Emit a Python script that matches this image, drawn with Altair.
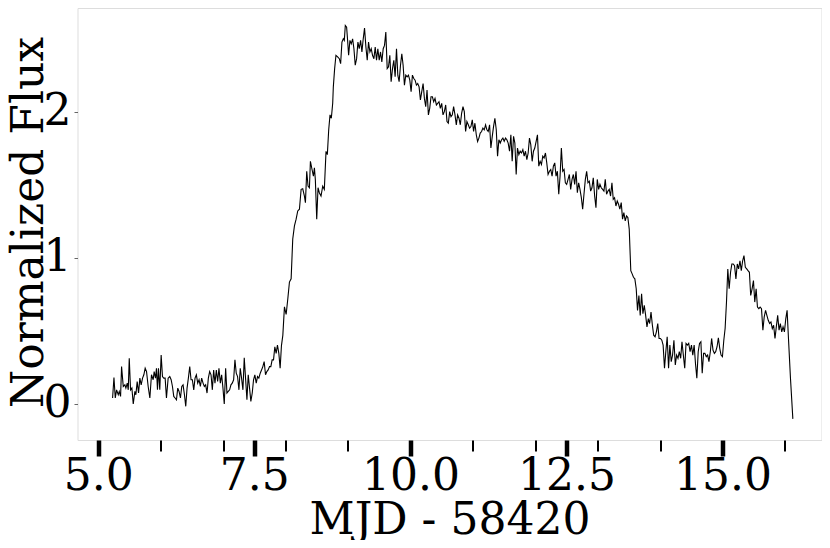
import altair as alt
import pandas as pd

# --- light curve, in five pieces (MJD - 58420, normalized flux) ---
mjd_quiescent = [5.229,5.251,5.272,5.293,5.320,5.336,5.357,5.373,5.400,5.426,5.442,5.464,5.480,5.496,5.517,5.538,5.560,5.586,5.602,5.623,5.645,5.666,5.687,5.709,5.730,5.751,5.773,5.799,5.826,5.852,5.879,5.895,5.916,5.932,5.948,5.964,5.985,6.007,6.028,6.049,6.071,6.092,6.119,6.145,6.167,6.188,6.209,6.230,6.252,6.273,6.294,6.316,6.337,6.358,6.380,6.401,6.422,6.443,6.465,6.486,6.507,6.529,6.550,6.571,6.593,6.614,6.635,6.656,6.678,6.699,6.720,6.742,6.763,6.784,6.806,6.827,6.848,6.869,6.891,6.912,6.933,6.955,6.976,6.997,7.018,7.040,7.061,7.082,7.104,7.125,7.146,7.168,7.189,7.210,7.231,7.253,7.274,7.295,7.317,7.338,7.359,7.381,7.402,7.423,7.444,7.466,7.487,7.508,7.530,7.551,7.572,7.594,7.615,7.636,7.657,7.679,7.700,7.721,7.743,7.764,7.785,7.807,7.828,7.849,7.870,7.892,7.913]
flux_quiescent = [0.041,0.181,0.041,0.097,0.063,0.086,0.052,0.256,0.120,0.131,0.109,0.143,0.097,0.313,0.097,0.109,0.000,0.086,0.063,0.154,0.075,0.177,0.131,0.177,0.200,0.245,0.222,0.120,0.041,0.200,0.166,0.222,0.177,0.245,0.097,0.245,0.097,0.336,0.188,0.177,0.177,0.041,0.177,0.188,0.166,0.120,0.052,0.041,0.029,0.109,0.086,0.041,0.120,0.131,0.063,-0.016,0.109,0.177,0.256,0.166,0.166,0.097,0.177,0.200,0.143,0.166,0.120,0.177,0.143,0.120,0.131,0.075,0.177,0.222,0.200,0.097,0.233,0.143,0.233,0.154,0.245,0.143,0.200,0.109,0.000,0.245,0.075,0.086,0.097,0.131,0.143,0.166,0.302,0.211,0.188,0.097,0.245,0.177,0.097,0.317,0.177,0.029,0.200,0.109,0.018,0.075,0.166,0.200,0.143,0.188,0.177,0.211,0.233,0.256,0.290,0.200,0.222,0.233,0.256,0.256,0.302,0.302,0.392,0.347,0.404,0.347,0.245]

mjd_rise = [7.934,7.956,7.982,8.009,8.036,8.062,8.089,8.115,8.142,8.169,8.195,8.222,8.249,8.275,8.302,8.318,8.339,8.360,8.382,8.398,8.424,8.446,8.462,8.477,8.499,8.520,8.541,8.568,8.595,8.621,8.648,8.669,8.691,8.712,8.733,8.755,8.765,8.786]
flux_rise = [0.400,0.470,0.665,0.613,0.721,0.835,0.857,1.130,1.220,1.266,1.322,1.334,1.470,1.474,1.424,1.379,1.594,1.492,1.481,1.662,1.606,1.560,1.617,1.538,1.266,1.481,1.447,1.424,1.492,1.470,1.730,1.708,1.878,1.980,1.957,2.060,2.172,2.297]

mjd_peak = [8.807,8.834,8.861,8.882,8.903,8.925,8.941,8.957,8.978,8.994,9.010,9.031,9.052,9.074,9.095,9.116,9.138,9.159,9.180,9.202,9.223,9.244,9.265,9.287,9.308,9.329,9.351,9.372,9.393,9.415,9.436,9.457,9.478,9.500,9.521,9.542,9.564,9.585,9.606,9.628,9.649,9.670,9.691,9.713,9.734,9.755,9.777,9.798,9.819,9.841,9.862,9.883,9.904,9.926,9.947,9.968,9.990,10.011,10.032,10.054,10.075,10.096,10.117,10.139,10.160,10.181,10.203,10.224,10.245,10.266,10.288,10.309,10.330,10.352,10.373,10.394,10.416,10.437,10.458,10.479,10.501,10.522,10.543,10.565,10.586,10.607,10.629,10.650,10.671,10.692,10.714,10.735,10.756,10.778,10.799,10.820,10.842,10.863,10.884,10.905,10.927,10.948,10.969,10.991,11.012,11.033,11.055,11.076,11.097,11.118,11.140,11.161,11.182,11.204,11.225,11.246]
flux_peak = [2.388,2.377,2.365,2.331,2.479,2.501,2.490,2.592,2.581,2.490,2.388,2.490,2.467,2.501,2.433,2.320,2.365,2.479,2.433,2.490,2.411,2.501,2.574,2.445,2.354,2.479,2.411,2.433,2.388,2.365,2.445,2.354,2.433,2.354,2.411,2.343,2.433,2.456,2.547,2.297,2.309,2.388,2.207,2.297,2.354,2.241,2.433,2.252,2.207,2.320,2.399,2.320,2.184,2.252,2.241,2.252,2.218,2.138,2.252,2.229,2.218,2.184,2.195,2.172,2.082,2.138,2.195,2.093,2.036,2.150,1.980,2.025,2.104,2.104,2.070,2.093,2.048,2.059,2.070,2.025,2.059,1.980,2.002,2.048,1.934,1.923,2.002,1.968,1.980,2.036,1.980,1.912,1.980,1.957,1.912,1.991,2.036,2.002,1.866,1.934,1.912,1.889,1.900,1.946,1.866,1.923,1.844,1.798,1.821,1.855,1.866,1.889,1.878,1.912,1.878,1.866]

mjd_decline = [11.268,11.289,11.311,11.332,11.353,11.375,11.396,11.417,11.439,11.460,11.481,11.502,11.524,11.545,11.566,11.588,11.609,11.630,11.652,11.673,11.694,11.715,11.737,11.758,11.779,11.801,11.822,11.843,11.865,11.886,11.907,11.928,11.950,11.971,11.992,12.014,12.035,12.056,12.078,12.099,12.120,12.141,12.163,12.184,12.205,12.227,12.248,12.269,12.290,12.312,12.333,12.354,12.376,12.397,12.418,12.440,12.461,12.482,12.503,12.525,12.546,12.567,12.589,12.610,12.631,12.653,12.674,12.695,12.716,12.738,12.759,12.780,12.802,12.823,12.844,12.866,12.887,12.908,12.929,12.951,12.972,12.993,13.015,13.036,13.057,13.079,13.100,13.121,13.142,13.164,13.185,13.206,13.228,13.249,13.270,13.292,13.313,13.334,13.355,13.377,13.398,13.419,13.441,13.462,13.483,13.505]
flux_decline = [1.912,1.753,1.833,1.901,1.957,1.878,1.697,1.810,1.787,1.810,1.821,1.799,1.821,1.810,1.787,1.731,1.844,1.662,1.833,1.787,1.572,1.753,1.708,1.731,1.719,1.742,1.697,1.731,1.674,1.719,1.821,1.776,1.662,1.731,1.753,1.799,1.844,1.629,1.662,1.640,1.697,1.685,1.719,1.651,1.572,1.594,1.606,1.560,1.629,1.651,1.560,1.594,1.436,1.560,1.753,1.594,1.606,1.515,1.504,1.538,1.572,1.470,1.538,1.572,1.504,1.594,1.447,1.515,1.470,1.413,1.334,1.436,1.538,1.594,1.515,1.526,1.458,1.481,1.549,1.424,1.345,1.538,1.470,1.504,1.481,1.470,1.458,1.538,1.436,1.458,1.470,1.424,1.515,1.402,1.413,1.356,1.390,1.368,1.334,1.379,1.266,1.311,1.254,1.288,1.277,1.198]

mjd_late = [13.530,13.552,13.573,13.595,13.617,13.638,13.660,13.681,13.703,13.724,13.746,13.768,13.789,13.811,13.832,13.854,13.876,13.897,13.919,13.940,13.962,13.983,14.005,14.027,14.048,14.070,14.091,14.113,14.135,14.156,14.178,14.199,14.221,14.243,14.264,14.286,14.307,14.329,14.350,14.372,14.394,14.415,14.437,14.458,14.480,14.502,14.523,14.545,14.566,14.588,14.610,14.631,14.653,14.674,14.696,14.717,14.739,14.761,14.782,14.804,14.825,14.847,14.869,14.890,14.912,14.933,14.955,14.976,14.998,15.020,15.041,15.063,15.084,15.106,15.128,15.149,15.171,15.192,15.214,15.236,15.257,15.279,15.300,15.322,15.343,15.365,15.387,15.408,15.430,15.451,15.473,15.495,15.516,15.538,15.559,15.581,15.602,15.624,15.646,15.667,15.689,15.710,15.732,15.754,15.775,15.797,15.818,15.840,15.861,15.883,15.905,15.926,15.948,15.969,15.991,16.013,16.034,16.056,16.088,16.126]
flux_late = [0.913,0.891,0.868,0.857,0.789,0.641,0.743,0.607,0.755,0.619,0.675,0.607,0.528,0.585,0.551,0.630,0.539,0.471,0.460,0.494,0.551,0.449,0.449,0.437,0.403,0.245,0.358,0.460,0.245,0.403,0.290,0.335,0.437,0.267,0.335,0.313,0.358,0.313,0.426,0.335,0.245,0.415,0.403,0.415,0.358,0.403,0.335,0.403,0.279,0.176,0.358,0.415,0.426,0.211,0.347,0.347,0.324,0.335,0.290,0.358,0.449,0.369,0.347,0.358,0.392,0.453,0.381,0.335,0.324,0.437,0.517,0.698,0.925,0.789,0.902,0.959,0.959,0.947,0.857,0.959,0.925,0.981,0.913,0.981,1.016,0.936,0.925,0.913,0.902,0.743,0.789,0.845,0.698,0.789,0.664,0.653,0.664,0.653,0.505,0.596,0.641,0.607,0.573,0.551,0.562,0.517,0.539,0.449,0.528,0.607,0.505,0.551,0.494,0.528,0.494,0.585,0.641,0.449,0.176,-0.102]

x_tick_values = [5, 6, 7, 7.5, 8, 9, 10, 11, 12, 12.5, 13, 14, 15, 16]
y_tick_values = [0, 1, 2]
x_domain = [4.667, 16.585]
y_domain = [-0.2466, 2.712]

mjd = mjd_quiescent + mjd_rise + mjd_peak + mjd_decline + mjd_late
flux = flux_quiescent + flux_rise + flux_peak + flux_decline + flux_late
df = pd.DataFrame({"mjd": mjd, "flux": flux})

FONT = "DejaVu Serif"
major = "datum.value % 2.5 == 0"

x_axis = alt.Axis(
    values=x_tick_values,
    labelExpr=f"{major} ? format(datum.value, '.1f') : ''",
    tickWidth={"condition": {"test": major, "value": 4.5}, "value": 2},
    tickSize={"condition": {"test": major, "value": 16}, "value": 11},
    tickColor="black",
    domain=False,
    grid=False,
    labelFont=FONT,
    labelFontSize=44,
    labelColor="black",
    labelOverlap=False,
    labelFlush=False,
    labelPadding=-2,
    title="MJD - 58420",
    titleFont=FONT,
    titleFontSize=44,
    titleFontWeight="normal",
    titleColor="black",
    titlePadding=0,
)

y_axis = alt.Axis(
    values=y_tick_values,
    format="d",
    tickSize=3.5,
    tickWidth=1,
    tickColor="#666666",
    domain=False,
    grid=False,
    labelFont=FONT,
    labelFontSize=44,
    labelColor="black",
    labelPadding=3,
    labelOverlap=False,
    labelFlush=False,
    title="Normalized Flux",
    titleFont=FONT,
    titleFontSize=44,
    titleFontWeight="normal",
    titleColor="black",
    titleX=-35,
    titleY=214,
    titleAlign="center",
    titleBaseline="alphabetic",
)

chart = (
    alt.Chart(df)
    .mark_line(color="black", strokeWidth=1.1)
    .encode(
        x=alt.X("mjd:Q", scale=alt.Scale(domain=x_domain, nice=False, zero=False), axis=x_axis),
        y=alt.Y("flux:Q", scale=alt.Scale(domain=y_domain, nice=False, zero=False), axis=y_axis),
    )
    .properties(
        width=744,
        height=432,
        padding={"left": 69.5, "top": 0, "right": 0.5, "bottom": 100},
        autosize=alt.AutoSizeParams(type="none"),
    )
    .configure_view(stroke="#a8a8a8", strokeWidth=1)
    .configure(background="white")
)

chart.save("out.html", embed_options={"renderer": "svg", "actions": False})
